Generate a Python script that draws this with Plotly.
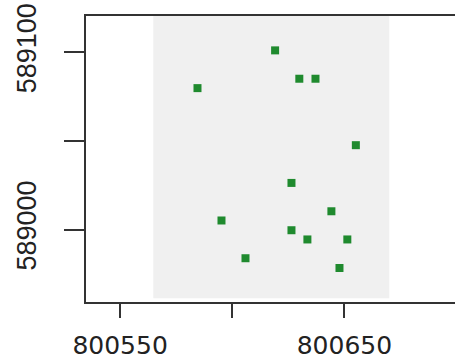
import plotly.graph_objects as go

# Point locations (easting / northing)
east = [800619.1, 800629.9, 800637.1, 800584.5, 800655.1, 800626.4, 800644.2,
        800595.2, 800626.4, 800633.5, 800651.3, 800605.9, 800647.8]
north = [589101.1, 589085.1, 589085.1, 589079.8, 589047.6, 589026.3, 589010.3,
         589005.1, 588999.6, 588994.4, 588994.4, 588983.8, 588978.3]

# Extent of the shaded study area
area_east = [800564.8, 800670.0]
area_north = [588961.2, 589130.0]

x_ticks = [800550, 800600, 800650]
x_labels = ["800550", "", "800650"]
y_ticks = [589000, 589050, 589100]
y_labels = ["589000", "", "589100"]

fig = go.Figure()

fig.add_shape(type="rect", xref="x", yref="y",
              x0=area_east[0], x1=area_east[1], y0=area_north[0], y1=area_north[1],
              fillcolor="#f0f0f0", line=dict(width=0), layer="below")

fig.add_trace(go.Scatter(
    x=east, y=north, mode="markers",
    marker=dict(symbol="square", size=8, color="#1f8a2e", line=dict(width=0)),
    hoverinfo="x+y", showlegend=False,
))

axis_font = dict(family="Liberation Sans, Arial, sans-serif", size=27, color="#222222")

fig.update_layout(
    width=455, height=362,
    margin=dict(l=86, r=0, t=16, b=60),
    paper_bgcolor="white", plot_bgcolor="white",
    xaxis=dict(
        range=[800534.8, 800699.3], tickmode="array", tickvals=x_ticks, ticktext=x_labels,
        showgrid=False, zeroline=False, showline=True, mirror=True,
        linecolor="#333333", linewidth=2, automargin=False,
        ticks="outside", ticklen=14, tickwidth=2, tickcolor="#333333",
        tickfont=dict(family="DejaVu Sans, sans-serif", size=25, color="#222222"),
        ticklabelstandoff=6,
    ),
    yaxis=dict(
        range=[588959.1, 589120.5], tickmode="array", tickvals=y_ticks, ticktext=y_labels,
        showgrid=False, zeroline=False, showline=True, mirror=False,
        linecolor="#333333", linewidth=2, automargin=False,
        ticks="outside", ticklen=20, tickwidth=2, tickcolor="#333333",
        tickangle=-90, tickfont=axis_font, ticklabelstandoff=17,
    ),
)

fig.write_html("out.html")
